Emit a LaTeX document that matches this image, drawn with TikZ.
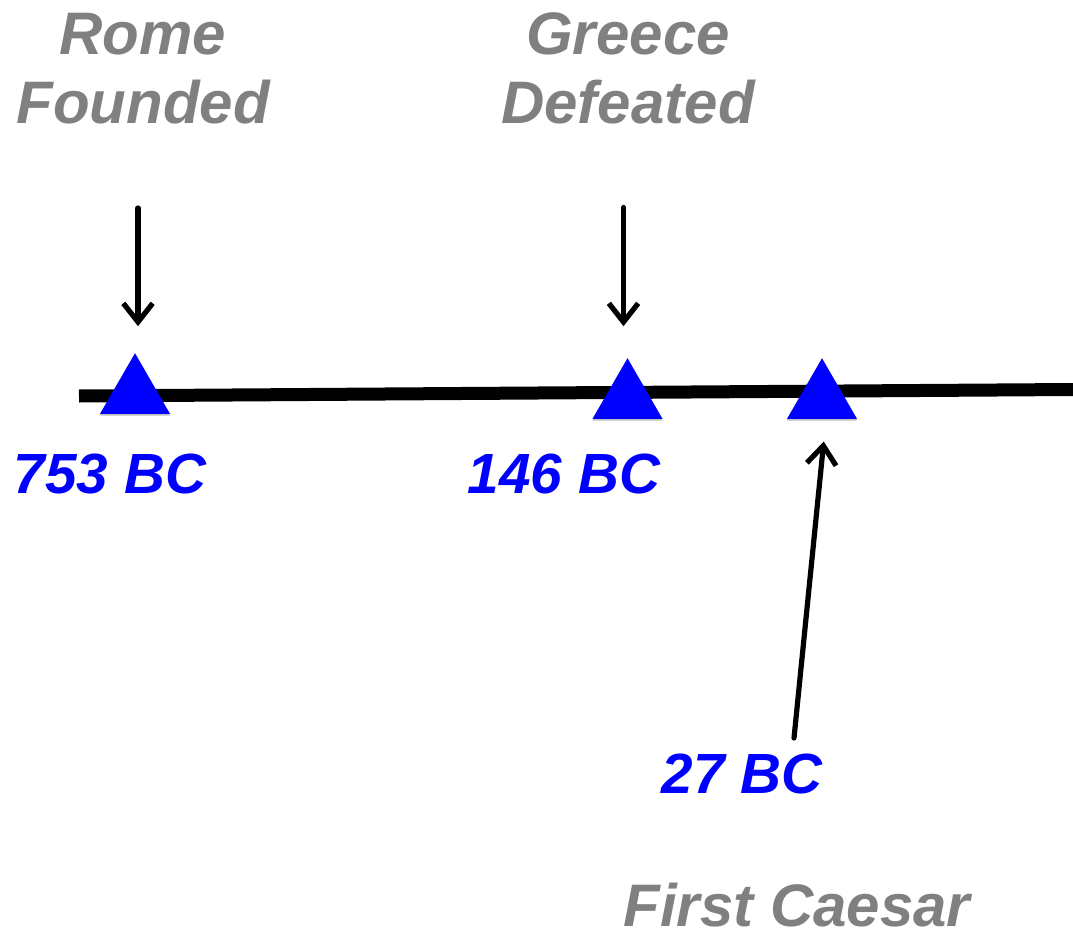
\documentclass[tikz,border=0pt]{standalone}
\usepackage{fontspec}
\setmainfont{Liberation Sans}
\usetikzlibrary{arrows.meta,shapes.geometric,shadows,calc}
\definecolor{labelgray}{HTML}{808080}
\definecolor{tlblue}{HTML}{0000FF}
\begin{document}
\begin{tikzpicture}[x=0.75pt,y=-0.75pt,
  eventlabel/.style={text=labelgray,font=\fontsize{45}{51.75}\selectfont\bfseries\itshape,align=center,inner sep=0pt,anchor=base},
  datelabel/.style={text=tlblue,font=\fontsize{42.5}{50}\selectfont\bfseries\itshape,inner sep=0pt,anchor=base},
  marker/.style={regular polygon,regular polygon sides=3,fill=tlblue,draw=none,minimum size=60.75pt,inner sep=0pt,outer sep=0pt,
    drop shadow={shadow xshift=0pt,shadow yshift=-1.2pt,opacity=0.25,fill=black}},
  pointer/.style={draw=black,line width=3.9pt,line cap=round,-{Straight Barb[length=14pt,width=22pt]}},
  axisline/.style={draw=black,line width=9.75pt}]
\useasboundingbox (0,0) rectangle (1073,934);
% timeline
\coordinate (L0) at (79,396);
\coordinate (L1) at (1073,389.5);
\draw[axisline] (L0) -- (L1);
% markers
\node[marker] (t1) at (135,393.7) {};
\node[marker] (t2) at (627.5,398.7) {};
\node[marker] (t3) at (822,398.7) {};
% event labels
\node[eventlabel] (e1) at (143,124) {Rome\\Founded};
\node[eventlabel] (e2) at (628,123.5) {Greece\\Defeated};
\node[eventlabel] (e3) at (797,926) {First Caesar};
% dates
\node[datelabel] (d1) at (110,493) {753 BC};
\node[datelabel] (d2) at (564,493) {146 BC};
\node[datelabel] (d3) at (742,793) {27 BC};
% pointers
\coordinate (p1) at (138,208);
\coordinate (p2) at (623.5,207.5);
\coordinate (p3) at (794,738);
\draw[pointer,shorten >=20.25pt] (p1) -- (p1 |- t1.corner 1);
\draw[pointer,shorten >=24pt] (p2) -- (p2 |- t2.corner 1);
\draw[pointer,shorten >=17pt] (p3) -- ($(t3.corner 2)!0.5!(t3.corner 3)+(3pt,0)$);
\end{tikzpicture}
\end{document}
